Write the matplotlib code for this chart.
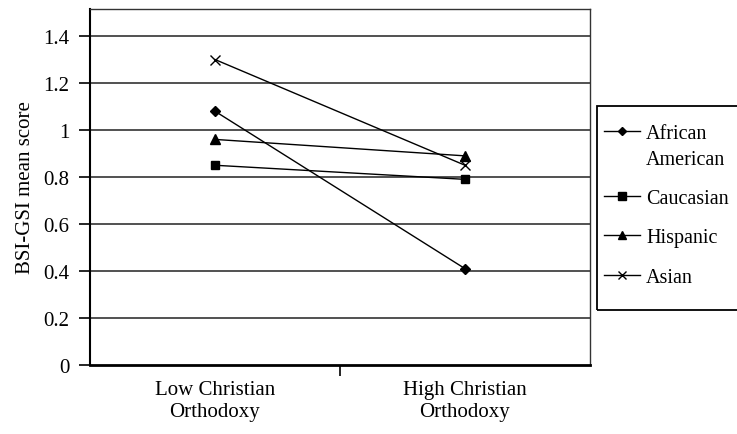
import matplotlib
matplotlib.use("Agg")
import matplotlib.pyplot as plt
import numpy as np
from matplotlib.legend_handler import HandlerLine2D
from matplotlib.patches import Rectangle

categories = ["Low Christian\nOrthodoxy", "High Christian\nOrthodoxy"]
series_names = ["African\nAmerican", "Caucasian", "Hispanic", "Asian"]
african_american = [1.08, 0.41]
caucasian = [0.85, 0.79]
hispanic = [0.96, 0.89]
asian = [1.30, 0.85]
markers = ["D", "s", "^", "x"]
yticks = [0, 0.2, 0.4, 0.6, 0.8, 1.0, 1.2, 1.4]
ytick_labels = ["0", "0.2", "0.4", "0.6", "0.8", "1", "1.2", "1.4"]

plt.rcParams["font.family"] = ["Liberation Serif", "DejaVu Serif"]
FS = 15
LEG_FS = 14.5


class ShiftedHandler(HandlerLine2D):
    # keep the legend line level with the first line of a two-line label
    def __init__(self, dy, **kw):
        super().__init__(**kw)
        self.dy = dy

    def create_artists(self, legend, orig_handle, xdescent, ydescent,
                       width, height, fontsize, trans):
        arts = super().create_artists(legend, orig_handle, xdescent, ydescent,
                                      width, height, fontsize, trans)
        for a in arts:
            a.set_ydata(np.asarray(a.get_ydata()) + self.dy * fontsize)
        return arts


fig = plt.figure(figsize=(7.37, 4.35), dpi=100)
ax = fig.add_axes([90 / 737, 1 - 366 / 435, 500 / 737, 356 / 435])

xs = np.arange(len(categories))
lines = []
for vals, name, mk in zip([african_american, caucasian, hispanic, asian],
                          series_names, markers):
    ms = {"D": 4.8, "s": 6.2, "^": 6.8, "x": 6.5}[mk]
    ln, = ax.plot(xs, vals, color="black", lw=1.0, marker=mk, ms=ms,
                  mew=1.0, mfc="black", mec="black", label=name, zorder=3)
    lines.append(ln)

ax.set_xlim(-0.5, 1.5)
ax.set_ylim(0, 1.515)
ax.set_yticks(yticks)
ax.set_yticklabels(ytick_labels, fontsize=FS)
for y in yticks[1:]:
    ax.axhline(y, color="#222222", lw=1.1, zorder=1)

ax.set_xticks(xs)
ax.set_xticklabels(categories, fontsize=FS)
ax.set_xticks([0.5], minor=True)
ax.tick_params(axis="x", which="major", length=0, pad=11)
ax.tick_params(axis="x", which="minor", length=8, width=1.2, direction="out")
ax.tick_params(axis="y", length=8, width=1.2, direction="out", pad=7)

for side in ["top", "right"]:
    ax.spines[side].set_color("#333333")
    ax.spines[side].set_linewidth(1.0)
ax.spines["left"].set_linewidth(1.5)
ax.spines["bottom"].set_linewidth(2.0)

ax.set_ylabel("BSI-GSI mean score", fontsize=FS, labelpad=6)

# legend box (clipped by the right edge, as in the source)
fig.patches.append(Rectangle((597 / 737, 1 - 311 / 435), 160 / 737, 204 / 435,
                             transform=fig.transFigure, fill=False,
                             ec="black", lw=1.3))
leg = fig.legend(handles=lines, labels=series_names,
                 loc="upper left", bbox_to_anchor=(604 / 737, 1 - 125 / 435),
                 fontsize=LEG_FS, frameon=False, borderpad=0, borderaxespad=0,
                 handlelength=1.8, labelspacing=1.0, handletextpad=0.3,
                 markerscale=0.9,
                 handler_map={lines[0]: ShiftedHandler(0.75)})
for t in leg.get_texts():
    t.set_linespacing(1.5)

fig.savefig("out.png", dpi=100)
